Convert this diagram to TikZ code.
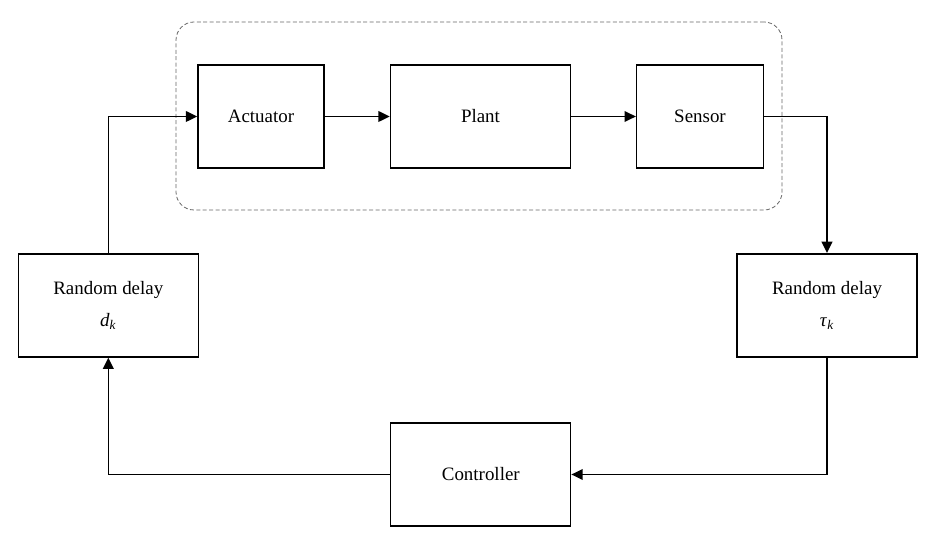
\documentclass[tikz,border=0pt]{standalone}
\usepackage{fontspec}
\setmainfont{Liberation Serif}
\usetikzlibrary{arrows.meta,positioning}

\tikzstyle{block} = [draw, rectangle, line width=1.2pt, minimum height=77.25pt, minimum width=135pt]
\tikzstyle{link} = [-{Triangle[length=8.5pt,width=8pt]}, line width=1.2pt]

\begin{document}
\begin{tikzpicture} [x=0.75pt, y=-0.75pt, font=\fontsize{14.2}{17}\selectfont]

\def\colL{black};
\def\colG{black!60};

\useasboundingbox (0,0) rectangle (929,541);

\node at (479,116)[draw=\colG,rectangle,rounded corners=13.5pt,
               dash pattern=on 3pt off 1.8pt,line width=0.6pt,
               minimum width=454.5pt,minimum height=141pt]
               (loop) {};

\node at (261,116.5)[block,minimum width=94.5pt]
               (act) {Actuator};

\node at (480.5,116.5)[block]
               (plant) {Plant};

\node at (700,116.5)[block,minimum width=95pt]
               (sens) {Sensor};

\node at (827,305.3)[block,align=center]
               (delayR) {Random delay\\[7pt]\textit{τ}\textsubscript{\textit{k}}};

\node at (480.8,474.5)[block,line width=0.9pt]
               (ctrl) {Controller};

\node at (108.3,305.3)[block,align=center]
               (delayL) {Random delay\\[7pt]\textit{d}\textsubscript{\textit{k}}};

\draw[link,\colL]
      (act.east) -- (plant.west);

\draw[link,\colL]
      (plant.east) -- (sens.west);

\draw[link,\colL]
      (sens.east) -| (delayR.north);

\draw[link,\colL]
      (delayR.south) |- (ctrl.east);

\draw[link,\colL]
      (ctrl.west) -| (delayL.south);

\draw[link,\colL]
      (delayL.north) |- (act.west);

\end{tikzpicture}
\end{document}
